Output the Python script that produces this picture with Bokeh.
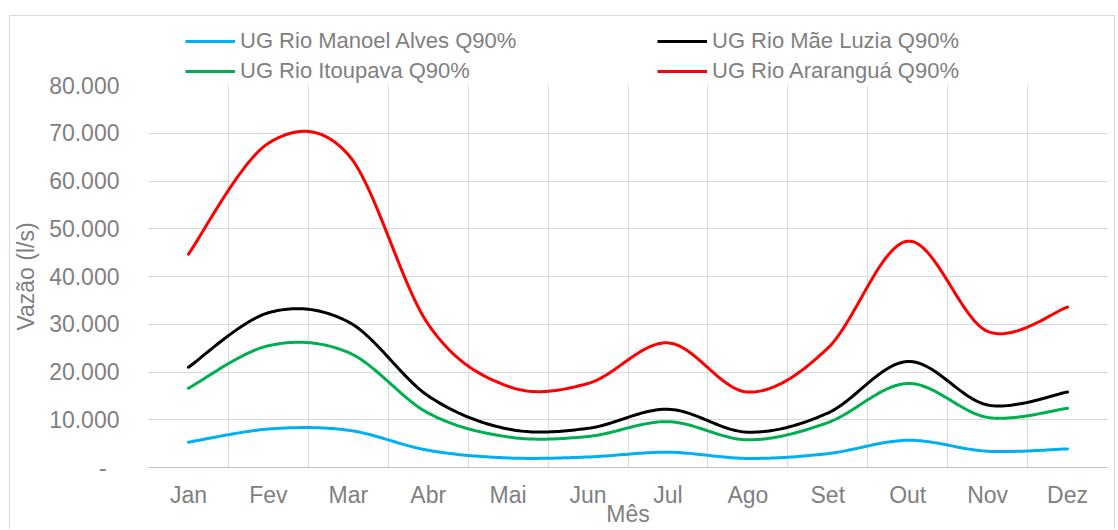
import numpy as np
from bokeh.plotting import figure
from bokeh.layouts import column
from bokeh.models import FixedTicker, Legend, LegendItem, Range1d
from bokeh.embed import file_html
from bokeh.resources import INLINE

# Monthly Q90% flow (l/s) per management unit
meses = ["Jan", "Fev", "Mar", "Abr", "Mai", "Jun", "Jul", "Ago", "Set", "Out", "Nov", "Dez"]
manoel_alves = [5300, 8050, 7800, 3600, 2000, 2200, 3200, 1900, 2900, 5700, 3400, 3900]
mae_luzia = [21000, 32400, 30500, 15000, 8050, 8200, 12200, 7400, 11400, 22200, 13100, 15800]
itoupava = [16600, 25500, 24100, 11400, 6400, 6500, 9600, 5800, 9400, 17600, 10500, 12400]
ararangua = [44700, 67900, 65500, 30000, 17000, 17600, 26100, 15800, 25000, 47400, 28500, 33600]

y_ticks = [0, 10000, 20000, 30000, 40000, 50000, 60000, 70000, 80000]
y_tick_labels = ["-\u00a0\u00a0", "10.000", "20.000", "30.000", "40.000",
                 "50.000", "60.000", "70.000", "80.000"]

series = [
    ("UG Rio Manoel Alves Q90%", manoel_alves, "#00B0F0"),
    ("UG Rio Mãe Luzia Q90%", mae_luzia, "#000000"),
    ("UG Rio Itoupava Q90%", itoupava, "#00B050"),
    ("UG Rio Araranguá Q90%", ararangua, "#FF0000"),
]

FONT = "Liberation Sans"
GREY = "#7f7f7f"
BORDER = "1px solid #d9d9d9"


def smooth(xs, ys, n=30):
    """Catmull-Rom curve through the points (smoothed line)."""
    x = np.asarray(xs, float)
    y = np.asarray(ys, float)
    xp = np.concatenate([[x[0]], x, [x[-1]]])
    yp = np.concatenate([[y[0]], y, [y[-1]]])
    t = np.linspace(0, 1, n, endpoint=False)
    h00 = 2 * t**3 - 3 * t**2 + 1
    h10 = t**3 - 2 * t**2 + t
    h01 = -2 * t**3 + 3 * t**2
    h11 = t**3 - t**2
    ox, oy = [], []
    for i in range(len(x) - 1):
        for p, out in ((xp, ox), (yp, oy)):
            p0, p1, p2, p3 = p[i:i + 4]
            m1 = (p2 - p0) / 2
            m2 = (p3 - p1) / 2
            out.extend(h00 * p1 + h10 * m1 + h01 * p2 + h11 * m2)
    ox.append(x[-1])
    oy.append(y[-1])
    return ox, oy


# ---- legend strip above the chart ----
lf = figure(width=1106, height=70, output_backend="svg", toolbar_location=None,
            x_range=Range1d(0, 1), y_range=Range1d(0, 1),
            x_axis_type=None, y_axis_type=None, min_border=0,
            margin=(15, 0, 0, 9),
            styles={"border-top": BORDER, "border-left": BORDER,
                    "border-right": BORDER})
lf.outline_line_color = None
lf.background_fill_color = "white"
lf.border_fill_color = "white"

legend_pos = {
    "UG Rio Manoel Alves Q90%": (37, 30),
    "UG Rio Mãe Luzia Q90%": (509, 30),
    "UG Rio Itoupava Q90%": (37, 0),
    "UG Rio Araranguá Q90%": (509, 0),
}
for name, vals, color in series:
    # swatch renderer kept outside the visible range; only its legend entry shows
    swatch = lf.line([-3, -2], [-3, -2], line_color=color, line_width=3)
    leg = Legend(items=[LegendItem(label=name, renderers=[swatch])],
                 location=legend_pos[name], padding=0, margin=0, spacing=0,
                 glyph_width=50, glyph_height=30, label_height=30,
                 label_standoff=5,
                 label_text_font=FONT, label_text_font_size="22px",
                 label_text_color=GREY, background_fill_alpha=0,
                 border_line_alpha=0)
    lf.add_layout(leg, "center")

# ---- main chart (top edge tucked under the legend strip) ----
p = figure(width=1106, height=458, output_backend="svg", toolbar_location=None,
           x_range=Range1d(0, 12), y_range=Range1d(0, 80000),
           min_border_left=137, min_border_right=9, min_border_top=14,
           min_border_bottom=62, margin=(-14, 0, 0, 9),
           styles={"border-left": BORDER, "border-right": BORDER})
p.outline_line_color = None
p.background_fill_alpha = 0
p.border_fill_alpha = 0

x_pos = [i + 0.5 for i in range(len(meses))]

for name, vals, color in series:
    sx, sy = smooth(x_pos, vals)
    p.line(sx, sy, line_color=color, line_width=3,
           line_cap="round", line_join="round")

# grid at category boundaries
p.xgrid.ticker = FixedTicker(ticks=list(range(13)))
p.ygrid.ticker = FixedTicker(ticks=y_ticks)
for g in (p.xgrid, p.ygrid):
    g.grid_line_color = "#d9d9d9"
    g.grid_line_width = 1

xa = p.xaxis[0]
xa.ticker = FixedTicker(ticks=x_pos)
xa.major_label_overrides = {xv: m for xv, m in zip(x_pos, meses)}
xa.axis_label = "Mês"
xa.axis_line_color = "#bfbfbf"
xa.major_label_standoff = 14
xa.axis_label_standoff = -10

ya = p.yaxis[0]
ya.ticker = FixedTicker(ticks=y_ticks)
ya.major_label_overrides = {v: s for v, s in zip(y_ticks, y_tick_labels)}
ya.axis_label = "Vazão (l/s)"
ya.axis_line_color = None
ya.major_label_standoff = 29
ya.axis_label_standoff = 7

for ax in (xa, ya):
    ax.major_tick_line_color = None
    ax.minor_tick_line_color = None
    ax.major_tick_out = 0
    ax.major_tick_in = 0
    ax.minor_tick_out = 0
    ax.minor_tick_in = 0
    ax.major_label_text_font = FONT
    ax.major_label_text_font_size = "23px"
    ax.major_label_text_color = GREY
    ax.axis_label_text_font = FONT
    ax.axis_label_text_font_size = "23px"
    ax.axis_label_text_font_style = "normal"
    ax.axis_label_text_color = GREY

layout = column(lf, p, spacing=0)
open("out.html", "w").write(file_html(layout, INLINE))
